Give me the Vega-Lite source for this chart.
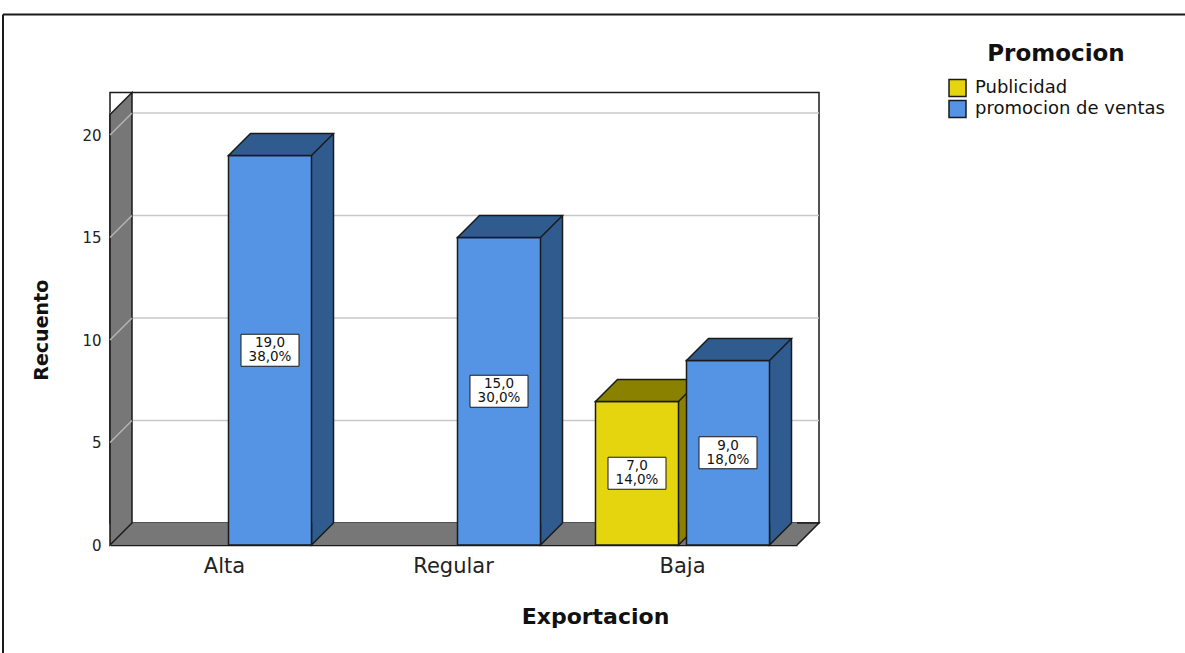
{
  "$schema": "https://vega.github.io/schema/vega-lite/v6.json",
  "autosize": "none",
  "width": 687,
  "height": 430.5,
  "padding": {"left": 110, "top": 114.5, "right": 388, "bottom": 108},
  "background": "white",
  "config": {"view": {"stroke": null}, "font": "DejaVu Sans"},
  "datasets": {
    "conteo": [
      {"Exportacion": "Alta", "Promocion": "promocion de ventas", "Recuento": 19, "Porcentaje": 38.0},
      {"Exportacion": "Regular", "Promocion": "promocion de ventas", "Recuento": 15, "Porcentaje": 30.0},
      {"Exportacion": "Baja", "Promocion": "Publicidad", "Recuento": 7, "Porcentaje": 14.0},
      {"Exportacion": "Baja", "Promocion": "promocion de ventas", "Recuento": 9, "Porcentaje": 18.0}
    ],
    "marcas": [{"Recuento": 5}, {"Recuento": 10}, {"Recuento": 15}, {"Recuento": 20}]
  },
  "data": {"name": "conteo"},
  "layer": [
    {
      "data": {"values": [{}]},
      "mark": {"type": "rule", "stroke": "#1a1a1a", "strokeWidth": 2, "xOffset": -107, "x2Offset": 600, "yOffset": -100},
      "encoding": {
        "x": {"datum": "Alta", "type": "nominal", "bandPosition": 0},
        "x2": {"datum": "Baja"},
        "y": {"datum": 21, "type": "quantitative"}
      }
    },
    {
      "data": {"values": [{}]},
      "mark": {"type": "rule", "stroke": "#1a1a1a", "strokeWidth": 2, "xOffset": -107, "yOffset": -100, "y2Offset": 120},
      "encoding": {
        "x": {"datum": "Alta", "type": "nominal", "bandPosition": 0},
        "y": {"datum": 21, "type": "quantitative"},
        "y2": {"datum": 0}
      }
    },
    {
      "data": {"values": [{}]},
      "mark": {"type": "rect", "fill": "white", "stroke": "#1a1a1a", "strokeWidth": 1.5, "xOffset": 22, "x2Offset": 22, "yOffset": -22, "y2Offset": -22},
      "encoding": {
        "y": {"datum": 21, "type": "quantitative"},
        "y2": {"datum": 0}
      }
    },
    {
      "data": {"name": "marcas"},
      "mark": {"type": "rule", "stroke": "#c8c8c8", "strokeWidth": 1.5, "xOffset": 22, "x2Offset": 22, "yOffset": -22},
      "encoding": {"y": {"field": "Recuento", "type": "quantitative"}}
    },
    {
      "data": {"values": [{}]},
      "mark": {"type": "rect", "fill": "#777777", "y2Offset": -22},
      "encoding": {
        "y": {"datum": 0, "type": "quantitative"},
        "y2": {"datum": 0}
      }
    },
    {
      "data": {"values": [{}]},
      "mark": {"type": "point", "shape": "M 0 0 L 22 -22 L 0 -22", "size": 4, "filled": true, "fill": "#777777", "stroke": "#1a1a1a", "strokeWidth": 1.5, "opacity": 1},
      "encoding": {
        "x": {"datum": "Baja", "type": "nominal", "bandPosition": 1},
        "y": {"datum": 0, "type": "quantitative"}
      }
    },
    {
      "data": {"values": [{}]},
      "mark": {"type": "point", "shape": "M 0 0 L 0 -430.5 L 22 -452.5 L 22 -22 Z", "size": 4, "filled": true, "fill": "#777777", "stroke": "#1a1a1a", "strokeWidth": 1.5, "opacity": 1},
      "encoding": {
        "x": {"datum": "Alta", "type": "nominal", "bandPosition": 0},
        "y": {"datum": 0, "type": "quantitative"}
      }
    },
    {
      "data": {"name": "marcas"},
      "mark": {"type": "point", "shape": "M 0 0 L 22 -22", "size": 4, "filled": false, "stroke": "#b5b5b5", "strokeWidth": 1.5, "opacity": 1},
      "encoding": {
        "x": {"datum": "Alta", "type": "nominal", "bandPosition": 0},
        "y": {"field": "Recuento", "type": "quantitative"}
      }
    },
    {
      "transform": [
        {"filter": "datum.Promocion === 'Publicidad'"},
        {"calculate": "datum.Recuento / 2", "as": "mitad"},
        {"calculate": "[replace(format(datum.Recuento, '.1f'), '.', ','), replace(format(datum.Porcentaje, '.1f'), '.', ',') + '%']", "as": "etiqueta"}
      ],
      "layer": [
        {
          "mark": {"type": "bar", "width": 83, "xOffset": -23.5, "yOffset": -22, "y2Offset": -22, "fill": "#8b8100"},
          "encoding": {
            "x": {"field": "Exportacion", "type": "nominal"},
            "y": {"field": "Recuento", "type": "quantitative"}
          }
        },
        {
          "mark": {"type": "rule", "xOffset": 18, "yOffset": -22, "y2Offset": -22, "stroke": "#1a1a1a", "strokeWidth": 1.5},
          "encoding": {
            "x": {"field": "Exportacion", "type": "nominal"},
            "y": {"field": "Recuento", "type": "quantitative"},
            "y2": {"datum": 0}
          }
        },
        {
          "mark": {"type": "point", "shape": "M 41.5 -22 L 41.5 0 L 63.5 -22", "size": 4, "xOffset": -45.5, "filled": true, "fill": "#8b8100", "stroke": "#1a1a1a", "strokeWidth": 1.5, "opacity": 1},
          "encoding": {
            "x": {"field": "Exportacion", "type": "nominal"},
            "y": {"datum": 0, "type": "quantitative"}
          }
        },
        {
          "mark": {"type": "bar", "width": 83, "xOffset": -45.5, "stroke": "#1a1a1a", "strokeWidth": 1.5},
          "encoding": {
            "x": {"field": "Exportacion", "type": "nominal"},
            "y": {"field": "Recuento", "type": "quantitative"},
            "fill": {"field": "Promocion", "type": "nominal", "scale": {"domain": ["Publicidad", "promocion de ventas"], "range": ["#e4d50f", "#5594e4"]}}
          }
        },
        {
          "mark": {"type": "point", "shape": "M -41.5 0 L 41.5 0 L 63.5 -22 L -19.5 -22 Z", "size": 4, "xOffset": -45.5, "filled": true, "fill": "#8b8100", "stroke": "#1a1a1a", "strokeWidth": 1.5, "opacity": 1},
          "encoding": {
            "x": {"field": "Exportacion", "type": "nominal"},
            "y": {"field": "Recuento", "type": "quantitative"}
          }
        },
        {
          "mark": {"type": "point", "shape": "M -29 -16 L 29 -16 L 29 16 L -29 16 Z", "size": 4, "xOffset": -45.5, "filled": true, "fill": "white", "stroke": "#1a1a1a", "strokeWidth": 1, "opacity": 1},
          "encoding": {
            "x": {"field": "Exportacion", "type": "nominal"},
            "y": {"field": "mitad", "type": "quantitative"}
          }
        },
        {
          "mark": {"type": "text", "xOffset": -45.5, "dy": -7, "fontSize": 13.5, "lineHeight": 14, "baseline": "middle", "align": "center", "color": "#111"},
          "encoding": {
            "x": {"field": "Exportacion", "type": "nominal"},
            "y": {"field": "mitad", "type": "quantitative"},
            "text": {"field": "etiqueta"}
          }
        }
      ]
    },
    {
      "transform": [
        {"filter": "datum.Promocion === 'promocion de ventas'"},
        {"calculate": "datum.Recuento / 2", "as": "mitad"},
        {"calculate": "[replace(format(datum.Recuento, '.1f'), '.', ','), replace(format(datum.Porcentaje, '.1f'), '.', ',') + '%']", "as": "etiqueta"}
      ],
      "layer": [
        {
          "mark": {"type": "bar", "width": 83, "xOffset": 67.5, "yOffset": -22, "y2Offset": -22, "fill": "#2f5b8f"},
          "encoding": {
            "x": {"field": "Exportacion", "type": "nominal"},
            "y": {"field": "Recuento", "type": "quantitative"}
          }
        },
        {
          "mark": {"type": "rule", "xOffset": 109, "yOffset": -22, "y2Offset": -22, "stroke": "#1a1a1a", "strokeWidth": 1.5},
          "encoding": {
            "x": {"field": "Exportacion", "type": "nominal"},
            "y": {"field": "Recuento", "type": "quantitative"},
            "y2": {"datum": 0}
          }
        },
        {
          "mark": {"type": "point", "shape": "M 41.5 -22 L 41.5 0 L 63.5 -22", "size": 4, "xOffset": 45.5, "filled": true, "fill": "#2f5b8f", "stroke": "#1a1a1a", "strokeWidth": 1.5, "opacity": 1},
          "encoding": {
            "x": {"field": "Exportacion", "type": "nominal"},
            "y": {"datum": 0, "type": "quantitative"}
          }
        },
        {
          "mark": {"type": "bar", "width": 83, "xOffset": 45.5, "stroke": "#1a1a1a", "strokeWidth": 1.5},
          "encoding": {
            "x": {
              "field": "Exportacion", "type": "nominal",
              "sort": ["Alta", "Regular", "Baja"],
              "scale": {"domain": ["Alta", "Regular", "Baja"], "paddingInner": 0, "paddingOuter": 0},
              "axis": {"title": "Exportacion", "labelAngle": 0, "labelAlign": "center", "labelBaseline": "top", "labelFontSize": 21, "labelColor": "#222", "labelPadding": 10, "ticks": false, "domainColor": "#1a1a1a", "domainWidth": 1.5, "titleFontSize": 22, "titleFontWeight": "bold", "titleColor": "#111", "titlePadding": 30, "titleX": 485}
            },
            "y": {
              "field": "Recuento", "type": "quantitative",
              "scale": {"domain": [0, 21], "nice": false},
              "axis": {"title": "Recuento", "values": [0, 5, 10, 15, 20], "grid": false, "ticks": false, "domain": false, "labelFontSize": 15, "labelColor": "#222", "labelPadding": 9, "titleFontSize": 19, "titleFontWeight": "bold", "titleColor": "#111", "titlePadding": 30}
            },
            "fill": {
              "field": "Promocion", "type": "nominal",
              "scale": {"domain": ["Publicidad", "promocion de ventas"], "range": ["#e4d50f", "#5594e4"]},
              "legend": {"title": "Promocion", "orient": "none", "legendX": 838, "legendY": -72, "titleFontSize": 23, "titleFontWeight": "bold", "titleColor": "#111", "titleAnchor": "middle", "titlePadding": 13, "labelFontSize": 18, "labelLimit": 400, "labelColor": "#111", "labelOffset": 8, "symbolType": "square", "symbolSize": 289, "symbolStrokeColor": "#1a1a1a", "symbolStrokeWidth": 1.5, "rowPadding": -2}
            }
          }
        },
        {
          "mark": {"type": "point", "shape": "M -41.5 0 L 41.5 0 L 63.5 -22 L -19.5 -22 Z", "size": 4, "xOffset": 45.5, "filled": true, "fill": "#2f5b8f", "stroke": "#1a1a1a", "strokeWidth": 1.5, "opacity": 1},
          "encoding": {
            "x": {"field": "Exportacion", "type": "nominal"},
            "y": {"field": "Recuento", "type": "quantitative"}
          }
        },
        {
          "mark": {"type": "point", "shape": "M -29 -16 L 29 -16 L 29 16 L -29 16 Z", "size": 4, "xOffset": 45.5, "filled": true, "fill": "white", "stroke": "#1a1a1a", "strokeWidth": 1, "opacity": 1},
          "encoding": {
            "x": {"field": "Exportacion", "type": "nominal"},
            "y": {"field": "mitad", "type": "quantitative"}
          }
        },
        {
          "mark": {"type": "text", "xOffset": 45.5, "dy": -7, "fontSize": 13.5, "lineHeight": 14, "baseline": "middle", "align": "center", "color": "#111"},
          "encoding": {
            "x": {"field": "Exportacion", "type": "nominal"},
            "y": {"field": "mitad", "type": "quantitative"},
            "text": {"field": "etiqueta"}
          }
        }
      ]
    }
  ]
}
